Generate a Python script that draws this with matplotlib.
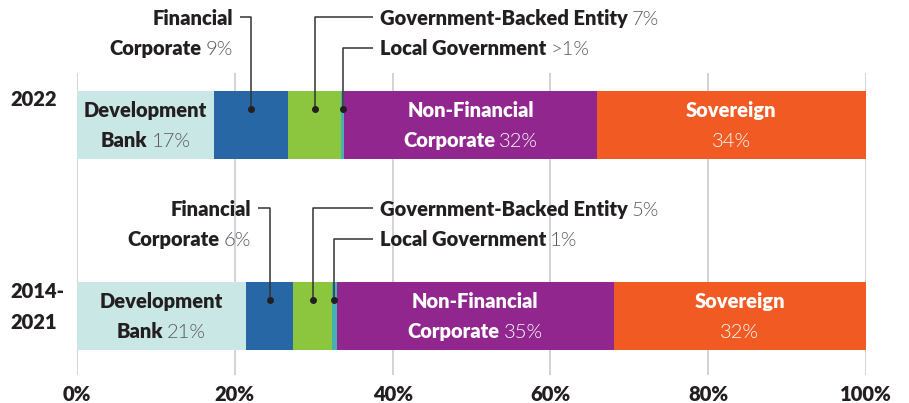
import matplotlib
matplotlib.use("Agg")
import matplotlib.pyplot as plt
import matplotlib.transforms as mtransforms

# ---------------- data ----------------
categories = ["2022", "2014-\n2021"]
segments = ["Development Bank", "Financial Corporate", "Government-Backed Entity",
            "Local Government", "Non-Financial Corporate", "Sovereign"]
values_2022 = [17.4, 9.4, 6.7, 0.4, 32.0, 34.1]
values_2014_2021 = [21.4, 6.0, 4.9, 0.6, 35.1, 32.0]
pct_2022 = ["17%", "9%", "7%", ">1%", "32%", "34%"]
pct_2014_2021 = ["21%", "6%", "5%", "1%", "35%", "32%"]
xticks = [0, 20, 40, 60, 80, 100]
xtick_labels = ["0%", "20%", "40%", "60%", "80%", "100%"]

colors = ["#c9e7e5", "#2767a5", "#8cc63f", "#45b1b5", "#91268f", "#f15a22"]
DARK = "#231f20"
GRAY = "#58595b"
FONT = ["Lato", "DejaVu Sans"]
FS = 14.5
BOLD = 800
LIGHT = 300

rows = [values_2022, values_2014_2021]
pcts = [pct_2022, pct_2014_2021]

W, H = 909, 403
fig = plt.figure(figsize=(W / 100, H / 100), dpi=100)
ax = fig.add_axes([77 / W, 1 - 375 / H, 789 / W, 302 / H])
ax.set_xlim(0, 100)
ax.set_ylim(1.309, -0.272)

for s in ax.spines.values():
    s.set_visible(False)
ax.set_yticks([])
ax.set_xticks(xticks, xtick_labels, fontweight=BOLD, fontsize=FS, color=DARK, family=FONT)
ax.tick_params(axis="x", length=0, pad=7)
ax.grid(axis="x", color="#c6c6ce", linewidth=1.1, zorder=0)
ax.set_axisbelow(True)

bar_h = 0.356
for i, vals in enumerate(rows):
    left = 0
    for j, v in enumerate(vals):
        ax.barh(i, v, left=left, height=bar_h, color=colors[j], zorder=2, linewidth=0)
        left += v

fig.canvas.draw()
renderer = fig.canvas.get_renderer()


def ydata(i, dpx):
    disp = ax.transData.transform((0, i))
    return ax.transData.inverted().transform((disp[0], disp[1] - dpx))[1]


def rich(x, i, dpx, parts, ha="left", gap=4):
    y = ydata(i, dpx)
    texts, widths = [], []
    for s, w, c in parts:
        t = ax.text(x, y, s, fontweight=w, color=c, fontsize=FS, family=FONT,
                    ha="left", va="baseline", clip_on=False, zorder=5)
        texts.append(t)
        widths.append(t.get_window_extent(renderer).width)
    total = sum(widths) + gap * (len(parts) - 1)
    acc = {"left": 0, "center": -total / 2, "right": -total}[ha]
    for t, wd in zip(texts, widths):
        t.set_transform(mtransforms.offset_copy(ax.transData, fig=fig, x=acc, y=0, units="dots"))
        acc += wd + gap


for i, (vals, pc) in enumerate(zip(rows, pcts)):
    starts = [sum(vals[:k]) for k in range(len(vals))]
    mids = [s + v / 2 for s, v in zip(starts, vals)]
    rich(mids[0], i, -8, [("Development", BOLD, DARK)], ha="center")
    rich(mids[0], i, 22, [("Bank", BOLD, DARK), (pc[0], LIGHT, GRAY)], ha="center")
    rich(mids[4], i, -8, [("Non-Financial", BOLD, "white")], ha="center")
    rich(mids[4], i, 22, [("Corporate", BOLD, "white"), (pc[4], LIGHT, "white")], ha="center")
    rich(mids[5], i, -8, [("Sovereign", BOLD, "white")], ha="center")
    rich(mids[5], i, 22, [(pc[5], LIGHT, "white")], ha="center")

    ydot = ydata(i, -16)
    y1 = ydata(i, -108)
    y2 = ydata(i, -77)
    lk = dict(color="#333333", linewidth=1.1, zorder=4, clip_on=False, solid_capstyle="butt")
    ax.plot([mids[1], mids[1], mids[1] - 1.4], [ydot, y1, y1], **lk)
    rich(mids[1] - 2.3, i, -100, [("Financial", BOLD, DARK)], ha="right")
    rich(mids[1] - 2.3, i, -70, [("Corporate", BOLD, DARK), (pc[1], LIGHT, GRAY)], ha="right")
    ax.plot([mids[2], mids[2], 37.5], [ydot, y1, y1], **lk)
    rich(38.4, i, -100, [("Government-Backed Entity", BOLD, DARK), (pc[2], LIGHT, GRAY)])
    ax.plot([mids[3], mids[3], 37.5], [ydot, y2, y2], **lk)
    rich(38.4, i, -70, [("Local Government", BOLD, DARK), (pc[3], LIGHT, GRAY)])
    ax.plot([mids[1], mids[2], mids[3]], [ydot] * 3, "o", color=DARK, markersize=4, zorder=6, clip_on=False)

trans = mtransforms.blended_transform_factory(fig.transFigure, ax.transData)
for i, cat in enumerate(categories):
    lines = cat.split("\n")
    offs = [-19] if len(lines) == 1 else [-18, 13]
    for ln, o in zip(lines, offs):
        ax.text(10 / W, ydata(i, o), ln, transform=trans, fontweight=BOLD, fontsize=FS,
                family=FONT, color=DARK, ha="left", va="baseline")

fig.savefig("out.png", dpi=100)
